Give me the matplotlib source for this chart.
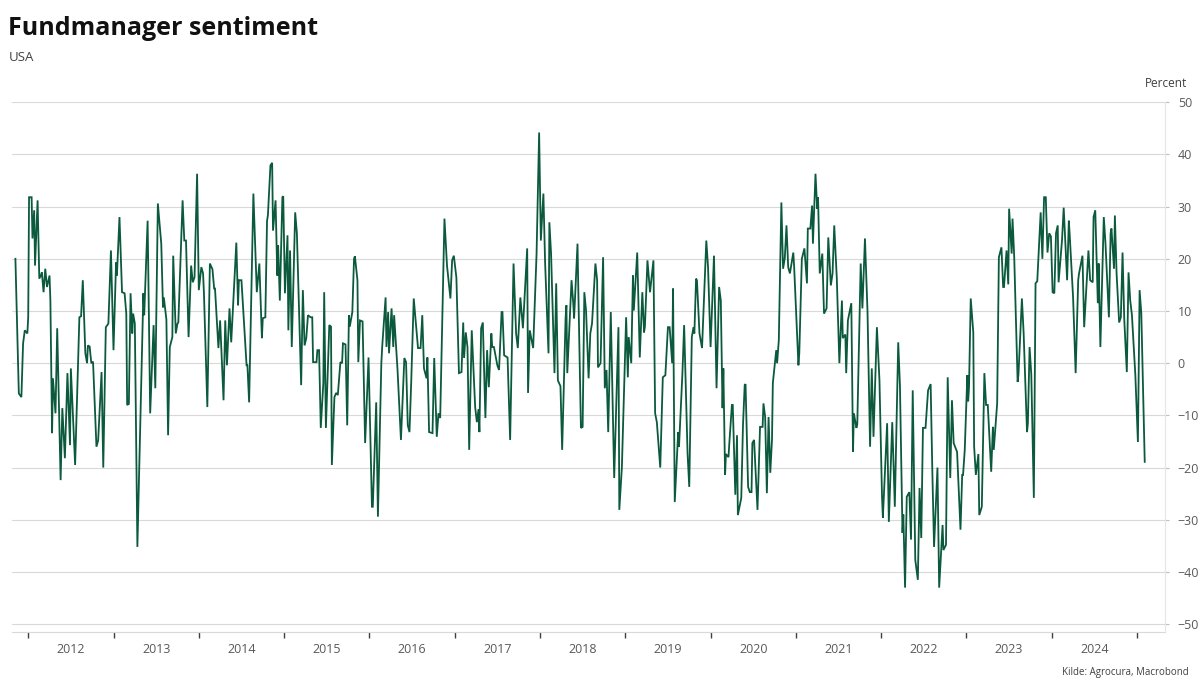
import matplotlib
matplotlib.use("Agg")
import matplotlib.pyplot as plt
import numpy as np

plt.rcParams['font.family'] = ['Open Sans', 'DejaVu Sans']

title = "Fundmanager sentiment"
subtitle = "USA"
unit = "Percent"
source = "Kilde: Agrocura, Macrobond"

years = list(range(2012, 2025))

# decimal-year dates and values (percent)
t = [2011.85, 2011.89, 2011.92, 2011.94, 2011.96, 2011.99, 2012.00, 2012.01, 2012.04, 2012.05,
     2012.07, 2012.08, 2012.11, 2012.13, 2012.15, 2012.16, 2012.18, 2012.20, 2012.22, 2012.25,
     2012.26, 2012.28, 2012.29, 2012.32, 2012.34, 2012.38, 2012.40, 2012.43, 2012.46, 2012.49,
     2012.50, 2012.55, 2012.60, 2012.62, 2012.64, 2012.67, 2012.69, 2012.70, 2012.72, 2012.74,
     2012.76, 2012.80, 2012.82, 2012.86, 2012.88, 2012.91, 2012.94, 2012.97, 2013.00, 2013.03,
     2013.04, 2013.07, 2013.10, 2013.13, 2013.15, 2013.16, 2013.18, 2013.20, 2013.22, 2013.23,
     2013.25, 2013.28, 2013.35, 2013.36, 2013.40, 2013.43, 2013.47, 2013.49, 2013.52, 2013.56,
     2013.58, 2013.59, 2013.62, 2013.64, 2013.66, 2013.69, 2013.70, 2013.73, 2013.75, 2013.76,
     2013.81, 2013.83, 2013.85, 2013.88, 2013.91, 2013.93, 2013.95, 2013.98, 2014.00, 2014.03,
     2014.05, 2014.06, 2014.10, 2014.13, 2014.16, 2014.18, 2014.19, 2014.23, 2014.25, 2014.29,
     2014.31, 2014.33, 2014.36, 2014.38, 2014.44, 2014.46, 2014.47, 2014.50, 2014.56, 2014.57,
     2014.59, 2014.64, 2014.68, 2014.71, 2014.74, 2014.75, 2014.78, 2014.80, 2014.81, 2014.84,
     2014.86, 2014.87, 2014.90, 2014.92, 2014.93, 2014.95, 2014.98, 2014.99, 2015.01, 2015.04,
     2015.05, 2015.07, 2015.09, 2015.13, 2015.15, 2015.20, 2015.22, 2015.24, 2015.26, 2015.28,
     2015.31, 2015.33, 2015.34, 2015.38, 2015.39, 2015.41, 2015.43, 2015.46, 2015.47, 2015.49,
     2015.53, 2015.55, 2015.56, 2015.59, 2015.61, 2015.63, 2015.66, 2015.68, 2015.69, 2015.72,
     2015.74, 2015.76, 2015.77, 2015.80, 2015.82, 2015.83, 2015.86, 2015.87, 2015.89, 2015.92,
     2015.95, 2015.99, 2016.03, 2016.04, 2016.08, 2016.10, 2016.14, 2016.15, 2016.19, 2016.20,
     2016.22, 2016.23, 2016.26, 2016.28, 2016.29, 2016.33, 2016.37, 2016.41, 2016.43, 2016.45,
     2016.47, 2016.49, 2016.52, 2016.57, 2016.60, 2016.62, 2016.64, 2016.67, 2016.68, 2016.70,
     2016.74, 2016.76, 2016.79, 2016.81, 2016.83, 2016.88, 2016.91, 2016.95, 2016.97, 2016.99,
     2017.02, 2017.05, 2017.08, 2017.10, 2017.11, 2017.13, 2017.15, 2017.17, 2017.20, 2017.24,
     2017.26, 2017.28, 2017.29, 2017.31, 2017.33, 2017.36, 2017.38, 2017.40, 2017.43, 2017.44,
     2017.46, 2017.50, 2017.52, 2017.55, 2017.56, 2017.58, 2017.62, 2017.65, 2017.69, 2017.72,
     2017.74, 2017.77, 2017.80, 2017.85, 2017.86, 2017.88, 2017.92, 2017.96, 2017.99, 2018.01,
     2018.04, 2018.06, 2018.10, 2018.11, 2018.13, 2018.17, 2018.19, 2018.21, 2018.24, 2018.26,
     2018.30, 2018.31, 2018.32, 2018.37, 2018.39, 2018.40, 2018.44, 2018.45, 2018.48, 2018.50,
     2018.52, 2018.54, 2018.57, 2018.59, 2018.61, 2018.65, 2018.67, 2018.68, 2018.71, 2018.74,
     2018.76, 2018.78, 2018.80, 2018.83, 2018.87, 2018.92, 2018.93, 2018.96, 2019.01, 2019.03,
     2019.04, 2019.07, 2019.09, 2019.10, 2019.14, 2019.17, 2019.20, 2019.22, 2019.23, 2019.26,
     2019.29, 2019.33, 2019.35, 2019.37, 2019.41, 2019.44, 2019.47, 2019.50, 2019.52, 2019.55,
     2019.56, 2019.58, 2019.62, 2019.63, 2019.67, 2019.69, 2019.73, 2019.75, 2019.78, 2019.80,
     2019.81, 2019.83, 2019.84, 2019.87, 2019.90, 2019.95, 2019.97, 2020.00, 2020.02, 2020.04,
     2020.07, 2020.10, 2020.12, 2020.14, 2020.15, 2020.17, 2020.18, 2020.21, 2020.22, 2020.25,
     2020.26, 2020.29, 2020.31, 2020.32, 2020.36, 2020.38, 2020.40, 2020.41, 2020.44, 2020.46,
     2020.48, 2020.49, 2020.51, 2020.55, 2020.58, 2020.61, 2020.62, 2020.64, 2020.66, 2020.68,
     2020.70, 2020.72, 2020.73, 2020.77, 2020.78, 2020.80, 2020.83, 2020.85, 2020.87, 2020.89,
     2020.91, 2020.93, 2020.97, 2020.98, 2021.03, 2021.04, 2021.07, 2021.10, 2021.13, 2021.14,
     2021.17, 2021.19, 2021.20, 2021.23, 2021.25, 2021.26, 2021.28, 2021.31, 2021.33, 2021.36,
     2021.38, 2021.41, 2021.43, 2021.45, 2021.48, 2021.51, 2021.54, 2021.55, 2021.58, 2021.59,
     2021.61, 2021.65, 2021.67, 2021.68, 2021.71, 2021.72, 2021.76, 2021.78, 2021.81, 2021.84,
     2021.87, 2021.89, 2021.91, 2021.95, 2021.98, 2022.01, 2022.02, 2022.07, 2022.09, 2022.13,
     2022.16, 2022.20, 2022.22, 2022.25, 2022.26, 2022.28, 2022.30, 2022.33, 2022.35, 2022.37,
     2022.40, 2022.43, 2022.45, 2022.47, 2022.49, 2022.52, 2022.55, 2022.58, 2022.60, 2022.62,
     2022.66, 2022.68, 2022.72, 2022.73, 2022.76, 2022.78, 2022.81, 2022.83, 2022.85, 2022.89,
     2022.93, 2022.95, 2022.96, 2022.98, 2023.01, 2023.02, 2023.03, 2023.05, 2023.08, 2023.09,
     2023.11, 2023.14, 2023.15, 2023.18, 2023.21, 2023.23, 2023.25, 2023.29, 2023.31, 2023.32,
     2023.36, 2023.38, 2023.41, 2023.43, 2023.44, 2023.47, 2023.49, 2023.50, 2023.53, 2023.54,
     2023.56, 2023.60, 2023.61, 2023.65, 2023.67, 2023.71, 2023.72, 2023.74, 2023.76, 2023.79,
     2023.81, 2023.83, 2023.87, 2023.89, 2023.91, 2023.93, 2023.95, 2023.97, 2023.99, 2024.01,
     2024.03, 2024.05, 2024.07, 2024.08, 2024.12, 2024.14, 2024.18, 2024.20, 2024.21, 2024.25,
     2024.28, 2024.31, 2024.32, 2024.36, 2024.38, 2024.43, 2024.45, 2024.48, 2024.49, 2024.51,
     2024.54, 2024.55, 2024.57, 2024.61, 2024.63, 2024.67, 2024.69, 2024.70, 2024.73, 2024.74,
     2024.76, 2024.79, 2024.81, 2024.83, 2024.85, 2024.88, 2024.90, 2024.92, 2024.94, 2024.96,
     2024.97, 2024.98, 2025.01, 2025.03, 2025.05, 2025.09]

v = [20, -5.8, -6.5, 3.8, 6.3, 5.7, 8.8, 31.8, 31.8, 23.9,
     29.3, 18.7, 31.2, 16.2, 16.9, 17.4, 13.6, 18.1, 14.6, 16.8,
     12, -13.4, -2.9, -9.6, 6.7, -22.4, -8.6, -18.2, -1.9, -15.7,
     -1, -19.5, 8.8, 9, 15.9, 1.9, 0, 3.4, 3.2, 0,
     0.3, -16, -14.8, -1.7, -20, 6.9, 7.6, 21.6, 2.5, 19.3,
     16.8, 28, 13.6, 13.4, 9.5, -8, -7.8, 13.4, 5.7, 9.5,
     7.6, -35.2, 13.4, 9.2, 27.3, -9.6, 7.3, -4.8, 30.6, 22.9,
     10.7, 12.6, 8.4, -13.8, 3.1, 5, 20.6, 5.7, 7.6, 7.8,
     31.2, 23.5, 23.5, 5, 18.7, 15.5, 16.5, 36.3, 14, 18.4,
     17.2, 13.6, -8.4, 19.1, 18, 14.3, 14.3, 2.9, 8.2, -7.1,
     8.2, -0.4, 10.5, 4, 23.1, 11.1, 15.9, 15.9, -0.4, -0.4,
     -7.5, 32.5, 13.6, 19.1, 4.8, 8.6, 8.8, 27.3, 28.3, 37.9,
     38.4, 25.4, 31.2, 16.8, 22.6, 12, 31.8, 32, 13.4, 24.5,
     6.3, 21.6, 3.1, 28.9, 24.9, -4.2, 14, 3.4, 4.8, 9.2,
     8.8, 8.8, 0.2, 0.2, 2.5, 2.5, -12.4, -3.8, 13.6, -12.4,
     7.3, 7, -19.5, -6.5, -5.7, -6.1, 0.2, 0, 3.8, 3.6,
     -11.9, 9.2, 7, 9.8, 20, 20.5, 15.9, 0.2, 8.2, 8,
     -15.3, 1.1, -27.5, -27.5, -7.5, -29.4, 0, 3.1, 12.6, 3.1,
     9.8, 1.9, 10.5, 3.1, 9.2, -1.3, -14.7, 1, 0.2, -11.9,
     -13.2, -3.8, 12.4, 2.9, 2.9, 9.2, -1, -2.9, 1.1, -13.2,
     -13.4, 1, -14.1, -9.6, -10.5, 27.7, 18.7, 12.4, 19.7, 20.6,
     16.4, -1.9, -1.7, 7.8, 1, 5.9, 3.1, -16.6, 6.3, -8.4,
     -11.3, -8.8, -13.2, 6.7, 7.8, -10.5, 2.5, -4.6, 5.7, 3.1,
     3.1, -0.4, -1.3, 9.8, 9.8, 1.5, 1.1, -14.7, 19.1, 5.7,
     2.9, 12.6, 6.7, 22, -5.7, 6.3, 2.9, 21, 44.2, 23.5,
     32.5, 19.3, 1.9, 27, 21, -1.9, 15.3, -3.3, -4.4, -16.6,
     8.6, 11.1, -1.9, 15.9, 11.5, 8.6, 22.9, 13.6, -12.4, -12.2,
     13.6, 10.1, -2.9, 5.7, 7.6, 19.1, 15.9, -0.8, 0, 20.3,
     -4.8, -1.3, -13.2, 9.8, -22, 6.9, -28.1, -20, 8.8, -2.7,
     5, 0, 16.8, 10.1, 21.2, 1.1, 13.6, 5.9, 7, 19.7,
     13.6, 19.7, -9.6, -11.3, -20, -2.7, -2.3, 6.9, 6.9, 0,
     14.3, -26.6, -13.2, -16, -1.9, 7.3, -17.2, -23.7, 5, 6.9,
     5.7, 16.2, 15.9, 5.7, 2.9, 23.5, 18.5, 3.1, 12, 20.6,
     -4.8, 14.6, 12, -8.6, -1, -21.4, -17.4, -18, -15.3, -8,
     -8, -25.2, -13.8, -29.1, -25.8, -11.9, -4.2, -4, -23.7, -24.7,
     -24.7, -15.3, -14.7, -28.1, -12.2, -12.2, -7.7, -10.3, -24.9, -10.3,
     -21, -14.7, -3.8, 2.5, 0, 4.4, 30.8, 18.1, 20.1, 26.4,
     18.4, 17.2, 21.2, 18.4, -0.4, 1.9, 20, 22, 15.3, 25.8,
     25.8, 30.2, 22.9, 36.3, 29.6, 31.8, 17.2, 21, 9.5, 10.5,
     24.1, 14.9, 17.2, 26.4, 16.2, 0, 12, 4.8, 5.5, -1.9,
     8.2, 11.5, -17, -9.6, -12.4, -11.7, 19.1, 10.5, 23.9, 9.8,
     -16, -1, -14.1, 6.9, -3.3, -25.6, -29.6, -11.5, -30.4, -11.3,
     -27.5, 4, -4.2, -32.5, -29, -43, -25.6, -24.7, -33.8, -5.2,
     -37.7, -41.5, -23.9, -33.5, -12.4, -12.4, -5.2, -4, -20.8, -35.2,
     -20, -43, -31, -35.8, -34.8, -2.7, -22, -7.1, -15.3, -17,
     -31.9, -21.4, -21.4, -16.6, -2.3, -7.3, -4.6, 12.4, 5.9, -16,
     -21.4, -17.4, -29.1, -27.5, -1.9, -8, -8, -20.8, -12.2, -16.6,
     -7.7, 20.3, 22.2, 14.6, 14.6, 21.6, 15.1, 29.6, 21, 27.7,
     20.3, -3.6, -2.1, 12.4, 5.9, -13.2, -11.5, 3.1, -2.1, -25.8,
     15.3, 15.7, 28.9, 20, 31.8, 31.8, 21.2, 24.9, 24.3, 13.6,
     13.4, 24.9, 26.4, 15.5, 23.5, 29.8, 15.9, 27.3, 24.7, 12.6,
     -1.9, 15.9, 17.2, 20.6, 6.9, 21.6, 15.9, 15.5, 28, 29.3,
     11.5, 19.1, 3.1, 28, 22.9, 8.8, 24.9, 25.8, 18.1, 28.3,
     17.2, 7.8, 8.8, 21.2, 8.4, -1.7, 17.4, 12, 9.2, 3.4,
     0.6, -2.3, -15.1, 14, 9.5, -18.9]

yticks = [50, 40, 30, 20, 10, 0, -10, -20, -30, -40, -50]

fig = plt.figure(figsize=(12, 6.88), dpi=100)
ax = fig.add_axes([0.010, 0.0814, 0.961, 0.770])

ax.plot(t, v, color='#0b5a3d', linewidth=1.3, solid_joinstyle='miter')

ax.set_xlim(2011.81, 2025.33)
ax.set_ylim(-51.5, 50)

ax.set_yticks(yticks)
ax.yaxis.tick_right()
ax.tick_params(axis='y', which='major', length=3, width=0.8, color='#bfbfbf',
               labelsize=9, labelcolor='#595959', pad=6)
ax.grid(axis='y', color='#d9d9d9', linewidth=0.8)
ax.set_axisbelow(True)

# x axis: ticks at year boundaries, labels centred on the years
ax.set_xticks([y for y in range(2012, 2026)])
ax.set_xticklabels([])
ax.set_xticks([y + 0.5 for y in years], minor=True)
ax.set_xticklabels([str(y) for y in years], minor=True)
ax.tick_params(axis='x', which='major', length=4, width=1.0, color='#404040', direction='out')
ax.tick_params(axis='x', which='minor', length=0, labelsize=9, labelcolor='#595959', pad=8)

for s in ['top', 'left']:
    ax.spines[s].set_visible(False)
ax.spines['bottom'].set_color('#d9d9d9')
ax.spines['bottom'].set_linewidth(0.8)
ax.spines['right'].set_color('#e6e6e6')
ax.spines['right'].set_linewidth(0.8)

fig.text(0.007, 0.958, title, fontsize=18, fontweight='bold', color='#111111', va='center', ha='left')
fig.text(0.007, 0.917, subtitle, fontsize=9.5, color='#404040', va='center', ha='left')
fig.text(0.989, 0.879, unit, fontsize=8.5, color='#404040', va='center', ha='right')
fig.text(0.991, 0.022, source, fontsize=7, color='#404040', va='center', ha='right')

fig.savefig('out.png', dpi=100, facecolor='white')
